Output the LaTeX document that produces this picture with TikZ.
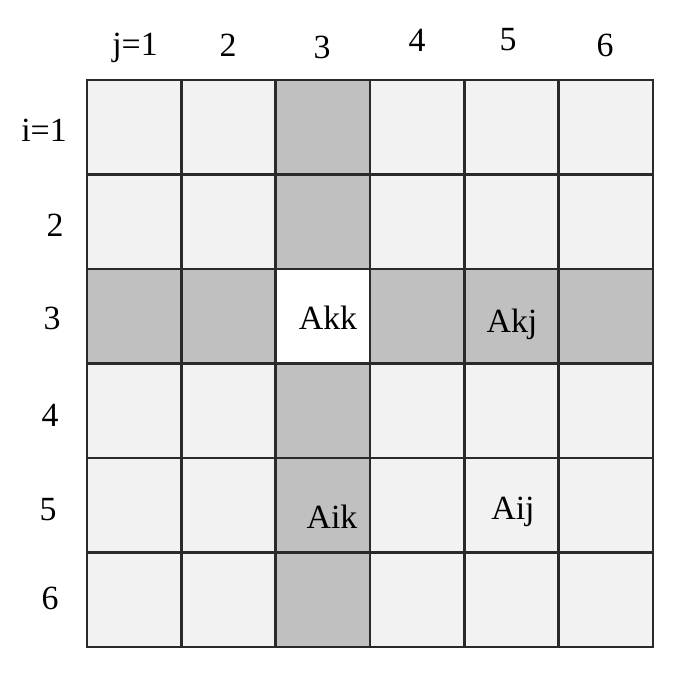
\documentclass[tikz,border=0pt]{standalone}
\usepackage{fontspec}
\setmainfont{Liberation Serif}
\definecolor{cellL}{HTML}{F2F2F2}
\definecolor{cellD}{HTML}{C0C0C0}
\definecolor{gridC}{HTML}{2A2A2A}
\tikzset{
  lbl/.style={font=\fontsize{34}{40}\selectfont, inner sep=0pt},
  gridline/.style={draw=gridC, line width=2.4bp, line cap=rect}
}
\begin{document}
\begin{tikzpicture}[x=1bp,y=-1bp]
\useasboundingbox (0,0) rectangle (678,686);
\def\xa{87}\def\w{94.33}\def\ya{80}\def\h{94.5}
% background cells
\fill[cellL] (\xa,\ya) rectangle ({\xa+6*\w},{\ya+6*\h});
\fill[cellD] ({\xa+2*\w},\ya) rectangle ({\xa+3*\w},{\ya+6*\h});
\fill[cellD] (\xa,{\ya+2*\h}) rectangle ({\xa+6*\w},{\ya+3*\h});
\fill[white] ({\xa+2*\w},{\ya+2*\h}) rectangle ({\xa+3*\w},{\ya+3*\h});
% grid
\foreach \k in {0,...,6} {
  \draw[gridline] ({\xa+\k*\w},\ya) -- ({\xa+\k*\w},{\ya+6*\h});
  \draw[gridline] (\xa,{\ya+\k*\h}) -- ({\xa+6*\w},{\ya+\k*\h});
}
% column labels
\node[lbl] (c1) at (135,48) {j=1};
\node[lbl] (c2) at (228,45) {2};
\node[lbl] (c3) at (322,47) {3};
\node[lbl] (c4) at (417,40) {4};
\node[lbl] (c5) at (508,40) {5};
\node[lbl] (c6) at (605,45) {6};
% row labels
\node[lbl] (r1) at (44,130) {i=1};
\node[lbl] (r2) at (55,225) {2};
\node[lbl] (r3) at (52,318) {3};
\node[lbl] (r4) at (50,415) {4};
\node[lbl] (r5) at (48,510) {5};
\node[lbl] (r6) at (50,598) {6};
% cell labels
\node[lbl] (akk) at (328,318) {Akk};
\node[lbl] (akj) at (512,324) {Akj};
\node[lbl] (aik) at (332,517) {Aik};
\node[lbl] (aij) at (513,512) {Aij};
\end{tikzpicture}
\end{document}
